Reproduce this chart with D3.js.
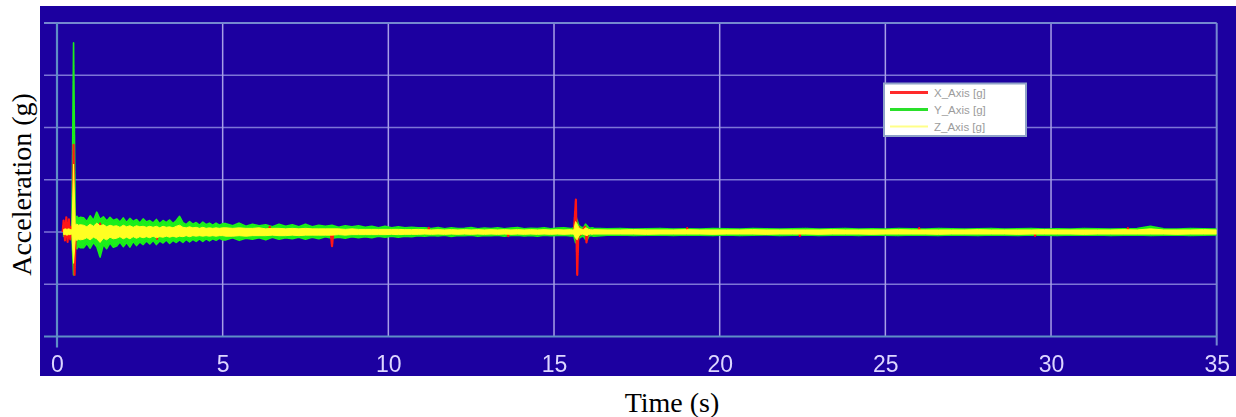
<!DOCTYPE html>
<html><head><meta charset="utf-8">
<script src="https://cdn.jsdelivr.net/npm/d3@7"></script>
<style>html,body{margin:0;padding:0;background:#fff;} svg{display:block;}</style>
</head><body><svg id="chart" width="1236" height="417"></svg>
<script>
// ---------------- data ----------------
const seriesNames = ["X_Axis [g]", "Y_Axis [g]", "Z_Axis [g]"];
const xTickValues = [0, 5, 10, 15, 20, 25, 30, 35];
const xTickLabels = ["0", "5", "10", "15", "20", "25", "30", "35"];
const xMinorTicks = [2.5, 7.5, 12.5, 17.5, 22.5, 27.5, 32.5];
const xGridValues = [5, 10, 15, 20, 25, 30];
const yGridValues = [-1, 0, 1, 2, 3];
const yMinorTicks = [-1.5, -0.5, 0.5, 1.5, 2.5, 3.5];
const timeDomain = [0, 35];
const accelDomain = [-2, 4];

// Envelope sampling segments for the dense signals (start time s, bin width s)
const envStart = [0.20, 0.8, 5.1, 15.55, 16.6];
const envStep = [0.05, 0.1, 0.2, 0.05, 0.4];

// Y_Axis [g] : per-bin max / min
const yAxisUpper = [
[.08,.10,.09,.10,.08,.07,3.62,.28,.30,.26,.28],
[.27,.20,.31,.22,.38,.24,.29,.21,.28,.22,
 .25,.19,.27,.18,.26,.20,.24,.17,.25,.19,
 .22,.17,.24,.16,.22,.18,.23,.16,.22,.30,
 .18,.14,.20,.15,.18,.13,.19,.14,.17,.13,
 .17,.13,.16],
[.16,.12,.17,.11,.15,.12,.14,.10,.15,.11,
 .14,.10,.15,.10,.13,.11,.13,.09,.12,.10,
 .12,.09,.11,.08,.11,.08,.10,.08,.09,.08,
 .08,.065,.085,.06,.08,.065,.07,.085,.06,.075,
 .065,.08,.06,.075,.085,.06,.07,.065,.08,.06,
 .075,.08,.065],
[.07,.08,.30,.22,.12,.10,.08,.09,.15,.12,.08,.07,.08,.07],
[.06,.065,.055,.06,.065,.055,.06,.055,.065,.06,
 .055,.065,.06,.055,.06,.065,.055,.06,.065,.055,
 .06,.055,.065,.06,.055,.065,.06,.055,.06,.065,
 .055,.06,.065,.055,.06,.055,.065,.06,.055,.06,
 .065,.11,.06,.055,.065,.06,.055]
];
const yAxisLower = [
[-.08,-.09,-.10,-.08,-.09,-.07,-.82,-.30,-.32,-.27,-.30],
[-.30,-.22,-.31,-.20,-.28,-.48,-.24,-.32,-.21,-.29,
 -.27,-.19,-.28,-.20,-.29,-.18,-.26,-.19,-.24,-.17,
 -.23,-.16,-.24,-.17,-.21,-.15,-.22,-.16,-.20,-.15,
 -.20,-.14,-.19,-.14,-.18,-.13,-.18,-.13,-.17,-.13,
 -.16,-.12,-.15],
[-.15,-.11,-.16,-.12,-.14,-.11,-.15,-.10,-.14,-.11,
 -.13,-.10,-.14,-.10,-.13,-.09,-.12,-.10,-.12,-.09,
 -.11,-.09,-.11,-.08,-.10,-.08,-.10,-.08,-.09,-.07,
 -.08,-.065,-.075,-.06,-.085,-.065,-.07,-.06,-.08,-.065,
 -.07,-.06,-.08,-.065,-.06,-.075,-.065,-.08,-.06,-.07,
 -.065,-.06,-.075],
[-.07,-.08,-.20,-.22,-.12,-.10,-.08,-.09,-.14,-.15,-.08,-.07,-.07,-.08],
[-.06,-.055,-.065,-.06,-.055,-.065,-.055,-.06,-.065,-.055,
 -.065,-.06,-.055,-.065,-.06,-.055,-.065,-.06,-.055,-.065,
 -.055,-.06,-.065,-.055,-.06,-.065,-.055,-.06,-.065,-.055,
 -.06,-.065,-.055,-.06,-.065,-.055,-.06,-.055,-.065,-.06,
 -.055,-.065,-.06,-.055,-.065,-.06,-.055]
];

// Z_Axis [g] : per-bin max / min
const zAxisUpper = [
[.05,.06,.05,.06,.05,.04,1.30,.14,.15,.13,.14],
[.13,.10,.15,.11,.17,.12,.14,.10,.13,.11,
 .12,.09,.13,.10,.12,.09,.12,.10,.11,.09,
 .11,.09,.11,.08,.11,.09,.10,.08,.11,.13,
 .09,.08,.10,.08,.09,.07,.09,.07,.08,.07,
 .08,.07,.08],
[.08,.07,.08,.07,.07,.08,.06,.07,.07,.06,
 .07,.06,.07,.06,.06,.06,.06,.06,.05,.06,
 .05,.05,.05,.05,.05,.05,.05,.045,.045,.05,
 .045,.04,.045,.04,.045,.04,.045,.04,.045,.04,
 .045,.04,.045,.04,.045,.04,.045,.04,.045,.04,
 .045,.04,.045],
[.04,.045,.20,.15,.08,.06,.05,.05,.08,.07,.05,.045,.04,.045],
[.04,.04,.045,.04,.04,.04,.045,.04,.04,.04,
 .04,.045,.04,.04,.04,.04,.04,.045,.04,.04,
 .04,.04,.045,.04,.04,.04,.04,.04,.045,.04,
 .04,.04,.04,.045,.04,.04,.04,.04,.04,.045,
 .04,.06,.04,.04,.04,.045,.04]
];
const zAxisLower = [
[-.05,-.05,-.06,-.05,-.05,-.04,-.60,-.15,-.16,-.14,-.15],
[-.14,-.11,-.15,-.10,-.13,-.20,-.12,-.15,-.10,-.13,
 -.12,-.09,-.13,-.10,-.13,-.09,-.12,-.09,-.11,-.09,
 -.11,-.08,-.11,-.09,-.10,-.08,-.10,-.08,-.10,-.08,
 -.09,-.07,-.09,-.07,-.08,-.07,-.08,-.07,-.08,-.07,
 -.08,-.07,-.07],
[-.08,-.08,-.07,-.08,-.07,-.07,-.07,-.06,-.07,-.07,
 -.06,-.07,-.06,-.06,-.06,-.06,-.06,-.05,-.06,-.05,
 -.05,-.05,-.05,-.05,-.05,-.045,-.05,-.045,-.045,-.045,
 -.04,-.045,-.04,-.045,-.04,-.045,-.04,-.045,-.04,-.045,
 -.04,-.045,-.04,-.045,-.04,-.045,-.04,-.045,-.04,-.045,
 -.04,-.045,-.04],
[-.04,-.045,-.12,-.15,-.07,-.05,-.04,-.05,-.06,-.07,-.045,-.04,-.045,-.04],
[-.04,-.04,-.04,-.045,-.04,-.04,-.04,-.04,-.045,-.04,
 -.04,-.04,-.045,-.04,-.04,-.04,-.045,-.04,-.04,-.04,
 -.045,-.04,-.04,-.04,-.04,-.045,-.04,-.04,-.04,-.04,
 -.04,-.045,-.04,-.04,-.04,-.04,-.045,-.04,-.04,-.04,
 -.04,-.04,-.04,-.045,-.04,-.04,-.04]
];

// X_Axis [g] : sampled points (mostly hidden beneath Z, visible where it pokes out)
const xAxisTime = [0.17,0.20,0.24,0.28,0.32,0.36,0.40,0.44,0.48,0.50,0.53,0.57,0.62,0.70,
 1.28,1.30,1.32, 3.00,3.02,3.04, 6.40,6.42,6.44, 8.26,8.30,8.34, 11.20,11.22,11.24, 13.60,13.62,13.64,
 15.60,15.66,15.70,15.74,15.80,15.88,15.94,15.98,16.04,16.20,
 19.00,19.02,19.04, 22.40,22.42,22.44, 26.00,26.02,26.04, 29.50,29.52,29.54, 32.30,32.32,32.34, 35.0];
const xAxisValue = [0,.22,-.16,.28,-.19,.24,-.14,.10,0,1.67,-.82,.08,-.10,0,
 0,.16,0, 0,-.13,0, 0,.10,0, 0,-.27,0, 0,.08,0, 0,-.08,0,
 0,.62,-.82,.10,-.05,.05,.10,-.20,.04,0,
 0,.075,0, 0,-.075,0, 0,.075,0, 0,-.075,0, 0,.075,0, 0];

// ---------------- styles ----------------
const seriesColors = ["#ff1414", "#1aee1a", "#ffff22"];
const legendColors = ["#ff2a2a", "#2ae02a", "#ffff88"];
const panelColor = "#1c00a0";
const axisColor = "#5e8ec6";
const hGridColor = "#7c74d6";
const vGridColor = "#a79fe6";
const labelColor = "#ddd6ff";

// ---------------- build series ----------------
function buildEnvelope(upper, lower) {
  const pts = [];
  upper.forEach((seg, s) => {
    seg.forEach((hi, i) => pts.push({ t: envStart[s] + i * envStep[s], hi: hi, lo: lower[s][i] }));
  });
  return pts;
}
const yAxisEnv = buildEnvelope(yAxisUpper, yAxisLower);
const zAxisEnv = buildEnvelope(zAxisUpper, zAxisLower);
const xAxisPts = xAxisTime.map((t, i) => [t, xAxisValue[i]]);

// ---------------- chart ----------------
const svg = d3.select("#chart");
const x = d3.scaleLinear().domain(timeDomain).range([57, 1216.7]);
const y = d3.scaleLinear().domain(accelDomain).range([336.5, 23]);

const defs = svg.append("defs");
defs.append("filter").attr("id", "soft").attr("x", "-5%").attr("y", "-20%").attr("width", "110%").attr("height", "140%")
  .append("feGaussianBlur").attr("stdDeviation", 0.75);
defs.append("filter").attr("id", "softer")
  .append("feGaussianBlur").attr("stdDeviation", 0.45);
defs.append("clipPath").attr("id", "plotclip").append("rect")
  .attr("x", x(0)).attr("y", y(accelDomain[1])).attr("width", x(35) - x(0)).attr("height", y(accelDomain[0]) - y(accelDomain[1]));

svg.append("rect").attr("x", 40).attr("y", 6).attr("width", 1196).attr("height", 370).attr("fill", panelColor);

const grid = svg.append("g").attr("filter", "url(#softer)");
const left = 44;
grid.selectAll("line.hg").data(yGridValues).join("line").attr("class", "hg")
  .attr("x1", left).attr("x2", x(35)).attr("y1", d => y(d)).attr("y2", d => y(d))
  .attr("stroke", hGridColor).attr("stroke-width", 1.7);
grid.selectAll("line.vg").data(xGridValues).join("line").attr("class", "vg")
  .attr("x1", d => x(d)).attr("x2", d => x(d)).attr("y1", y(4)).attr("y2", y(-2))
  .attr("stroke", vGridColor).attr("stroke-width", 1.5);
grid.append("line").attr("x1", left).attr("x2", x(35)).attr("y1", y(4)).attr("y2", y(4))
  .attr("stroke", "#7488d0").attr("stroke-width", 2);
grid.append("line").attr("x1", x(35)).attr("x2", x(35)).attr("y1", y(4)).attr("y2", y(-2) + 9)
  .attr("stroke", "#7488d0").attr("stroke-width", 2);
grid.append("line").attr("x1", left).attr("x2", x(35)).attr("y1", y(-2)).attr("y2", y(-2))
  .attr("stroke", axisColor).attr("stroke-width", 2.2);
grid.append("line").attr("x1", x(0)).attr("x2", x(0)).attr("y1", y(4)).attr("y2", y(-2) + 11)
  .attr("stroke", axisColor).attr("stroke-width", 2.2);

const xAxis = d3.axisBottom(x).tickValues(xTickValues)
  .tickFormat((d, i) => xTickLabels[i]).tickSize(10).tickPadding(9);
const gx = svg.append("g").attr("transform", `translate(0,${y(-2)})`).call(xAxis);
gx.select(".domain").remove();
gx.selectAll(".tick line").attr("stroke", axisColor).attr("stroke-width", 2.2).attr("filter", "url(#softer)");
gx.selectAll(".tick text").attr("fill", labelColor).attr("font-family", "Arial, 'Liberation Sans', sans-serif")
  .attr("font-size", 23).attr("filter", "url(#softer)");

const xMinor = d3.axisBottom(x).tickValues(xMinorTicks).tickSize(14).tickFormat("");
const gxm = svg.append("g").attr("transform", `translate(0,${y(-2) - 7})`).call(xMinor);
gxm.select(".domain").remove();
gxm.selectAll(".tick line").attr("stroke", axisColor).attr("stroke-width", 2.2).attr("filter", "url(#softer)");

const yMinor = d3.axisLeft(y).tickValues(yMinorTicks).tickSize(16).tickFormat("");
const gym = svg.append("g").attr("transform", `translate(${x(0) + 8},0)`).call(yMinor);
gym.select(".domain").remove();
gym.selectAll(".tick line").attr("stroke", axisColor).attr("stroke-width", 2.2).attr("filter", "url(#softer)");

// data: Y (green) envelope, X (red) trace, Z (yellow) envelope on top
const area = d3.area().x(d => x(d.t)).y0(d => y(d.lo)).y1(d => y(d.hi));
const line = d3.line().x(d => x(d[0])).y(d => y(d[1]));
const dataG = svg.append("g").attr("clip-path", "url(#plotclip)").append("g").attr("filter", "url(#soft)");
dataG.append("path").datum(yAxisEnv).attr("d", area)
  .attr("fill", seriesColors[1]).attr("stroke", seriesColors[1]).attr("stroke-width", 1.6).attr("stroke-linejoin", "round");
dataG.append("path").datum(xAxisPts).attr("d", line)
  .attr("fill", "none").attr("stroke", seriesColors[0]).attr("stroke-width", 2.2).attr("stroke-linejoin", "round");
dataG.append("path").datum(zAxisEnv).attr("d", area)
  .attr("fill", seriesColors[2]).attr("stroke", seriesColors[2]).attr("stroke-width", 1.0).attr("stroke-linejoin", "round");

// legend
const lg = svg.append("g");
lg.append("rect").attr("x", 884).attr("y", 83.5).attr("width", 142).attr("height", 52.5)
  .attr("fill", "#ffffff").attr("stroke", "#8fa2c8").attr("stroke-width", 2);
const rowY = d3.scalePoint().domain(seriesNames).range([92.5, 126.5]);
seriesNames.forEach((n, i) => {
  lg.append("line").attr("x1", 890).attr("x2", 928).attr("y1", rowY(n)).attr("y2", rowY(n))
    .attr("stroke", legendColors[i]).attr("stroke-width", i === 2 ? 2.2 : 3);
  lg.append("text").attr("x", 934).attr("y", rowY(n)).attr("dy", "0.36em")
    .attr("font-family", "Arial, 'Liberation Sans', sans-serif").attr("font-size", 11.5)
    .attr("fill", "#9c9c9c").text(n);
});

// axis titles
svg.append("text").attr("x", 672).attr("y", 412).attr("text-anchor", "middle")
  .attr("font-family", "'Liberation Serif', 'Times New Roman', serif").attr("font-size", 28)
  .attr("fill", "#000").text("Time (s)");
svg.append("text").attr("transform", "translate(31,184.5) rotate(-90)").attr("text-anchor", "middle")
  .attr("font-family", "'Liberation Serif', 'Times New Roman', serif").attr("font-size", 28)
  .attr("fill", "#000").text("Acceleration (g)");
</script>
</body></html>
